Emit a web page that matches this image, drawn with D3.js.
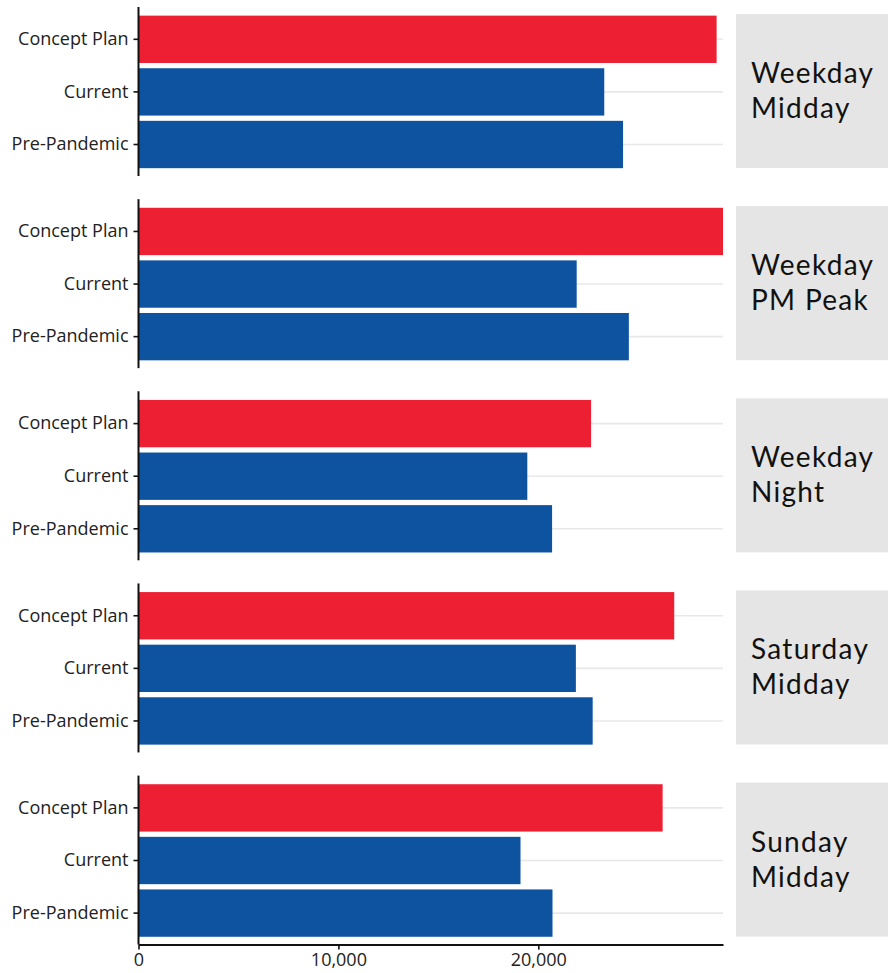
<!DOCTYPE html>
<html>
<head>
<meta charset="utf-8">
<script src="https://cdn.jsdelivr.net/npm/d3@7"></script>
<style>
  html, body { margin: 0; padding: 0; background: #fff; }
  svg { display: block; }
  text { font-family: "Open Sans", "Noto Sans", sans-serif; }
</style>
</head>
<body>
<svg id="chart" width="888" height="973"></svg>
<script>
// Service-period facets and scenario rows
const periods = [
  ["Weekday", "Midday"],
  ["Weekday", "PM Peak"],
  ["Weekday", "Night"],
  ["Saturday", "Midday"],
  ["Sunday", "Midday"]
];
const scenarios = ["Concept Plan", "Current", "Pre-Pandemic"];

// Values per period, one array per scenario
const conceptPlan = [28920, 29240, 22640, 26800, 26220];
const current     = [23300, 21920, 19450, 21880, 19110];
const prePandemic = [24240, 24530, 20690, 22720, 20710];

const xTicks = [0, 10000, 20000];
const colors = { "Concept Plan": "#ec1f33", "Current": "#0d53a0", "Pre-Pandemic": "#0d53a0" };

const seriesByScenario = {
  "Concept Plan": conceptPlan,
  "Current": current,
  "Pre-Pandemic": prePandemic
};

const svg = d3.select("#chart");

const left = 138.5, right = 723;
const panelTop0 = 7, panelStep = 192.15, panelH = 169;
const stripX = 736, stripW = 152;

const allMax = d3.max([...conceptPlan, ...current, ...prePandemic]);
const x = d3.scaleLinear().domain([0, allMax]).range([left, right]);

periods.forEach((p, i) => {
  const top = panelTop0 + i * panelStep;
  const g = svg.append("g");

  const y = d3.scaleBand()
    .domain(scenarios)
    .range([top + 6, top + 6 + 157.8])
    .paddingInner(0.1)
    .paddingOuter(0.05);

  // horizontal gridlines at each row
  g.selectAll("line.grid")
    .data(scenarios)
    .join("line")
    .attr("x1", left).attr("x2", right)
    .attr("y1", d => y(d) + y.bandwidth() / 2)
    .attr("y2", d => y(d) + y.bandwidth() / 2)
    .attr("stroke", "#e8e8e8")
    .attr("stroke-width", 1.6);

  // bars
  g.selectAll("rect.bar")
    .data(scenarios.map(s => ({ s, v: seriesByScenario[s][i] })))
    .join("rect")
    .attr("x", x(0))
    .attr("y", d => y(d.s))
    .attr("width", d => x(d.v) - x(0))
    .attr("height", y.bandwidth())
    .attr("fill", d => colors[d.s]);

  // y axis
  const yAxis = d3.axisLeft(y).tickSize(5).tickPadding(5);
  const ya = g.append("g")
    .attr("transform", `translate(${left},0)`)
    .call(yAxis);
  ya.select(".domain").remove();
  ya.selectAll(".tick line").attr("stroke", "#111").attr("stroke-width", 1.6);
  ya.selectAll(".tick text")
    .attr("fill", "#222")
    .style("font-size", "18px")
    .style("font-family", "'Open Sans', sans-serif");
  g.append("line")
    .attr("x1", left).attr("x2", left)
    .attr("y1", top).attr("y2", top + panelH)
    .attr("stroke", "#111").attr("stroke-width", 2);

  // facet strip
  g.append("rect")
    .attr("x", stripX).attr("y", top + 7)
    .attr("width", stripW).attr("height", 154)
    .attr("fill", "#e5e5e5");
  const cy = top + 7 + 77;
  [p[0], p[1]].forEach((line, k) => {
    g.append("text")
      .attr("x", stripX + 15)
      .attr("y", cy - 8 + k * 35)
      .attr("fill", "#111")
      .style("font-family", "Lato, sans-serif")
      .style("font-size", "28px")
      .style("letter-spacing", "1.3px")
      .text(line);
  });

  // bottom x axis on the last panel
  if (i === periods.length - 1) {
    const xa = svg.append("g")
      .attr("transform", `translate(0,${top + panelH})`)
      .call(d3.axisBottom(x).tickValues(xTicks).tickFormat(d3.format(",")).tickSize(5).tickPadding(4).tickSizeOuter(0));
    xa.select(".domain").attr("stroke", "#111").attr("stroke-width", 2);
    xa.selectAll(".tick line").attr("stroke", "#111").attr("stroke-width", 1.6);
    xa.selectAll(".tick text")
      .attr("fill", "#222")
      .style("font-size", "18px")
      .style("font-family", "'Open Sans', sans-serif");
  }
});
</script>
</body>
</html>
